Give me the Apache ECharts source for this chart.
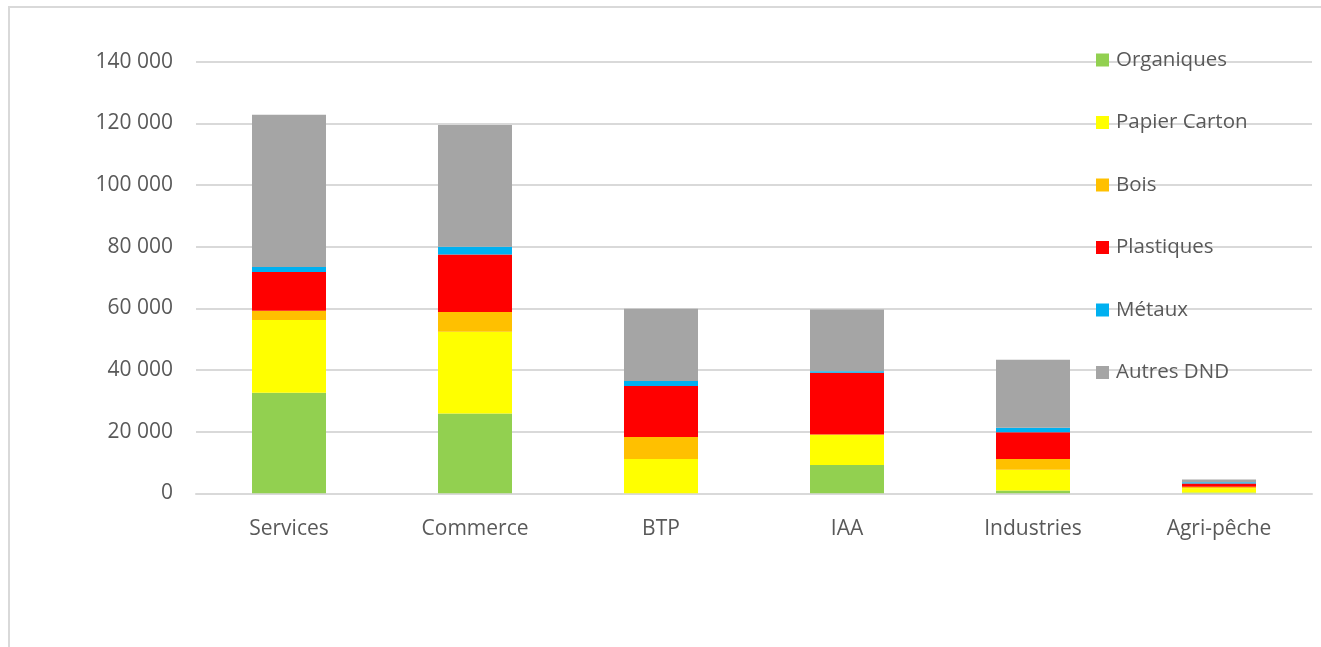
<!DOCTYPE html>
<html>
<head>
<meta charset="utf-8">
<script src="https://cdn.jsdelivr.net/npm/echarts@6/dist/echarts.min.js"></script>
<style>
html,body{margin:0;padding:0;background:#fff;}
#chart{width:1321px;height:647px;}
</style>
</head>
<body>
<div id="chart"></div>
<script>
const categories = ['Services', 'Commerce', 'BTP', 'IAA', 'Industries', 'Agri-pêche'];
const organiques = [32600, 25900, 0, 9200, 900, 300];
const papierCarton = [23600, 26500, 11100, 9900, 6700, 1300];
const bois = [3000, 6400, 7200, 0, 3500, 500];
const plastiques = [12600, 18700, 16500, 20000, 8700, 1100];
const metaux = [1600, 2500, 1600, 500, 1500, 400];
const autresDND = [49400, 39500, 23500, 20000, 22000, 900];

const seriesDefs = [
  ['Organiques', organiques, '#92D050'],
  ['Papier Carton', papierCarton, '#FFFF00'],
  ['Bois', bois, '#FFC000'],
  ['Plastiques', plastiques, '#FF0000'],
  ['Métaux', metaux, '#00B0F0'],
  ['Autres DND', autresDND, '#A5A5A5']
];

const fontFam = '"Open Sans", Lato, sans-serif';
const chart = echarts.init(document.getElementById('chart'), null, {renderer: 'canvas'});
chart.setOption({
  animation: false,
  backgroundColor: '#ffffff',
  graphic: [{
    type: 'rect', z: -1, silent: true,
    shape: {x: 9, y: 7, width: 1400, height: 700},
    style: {fill: 'none', stroke: '#d9d9d9', lineWidth: 2}
  }],
  grid: {left: 196, right: 9, top: 61.7, bottom: 153.7},
  legend: {
    orient: 'vertical',
    left: 1096,
    top: 48,
    padding: 0,
    itemWidth: 13,
    itemHeight: 13,
    itemGap: 38.5,
    icon: 'rect',
    data: seriesDefs.map(s => s[0]),
    textStyle: {fontFamily: fontFam, fontSize: 20.5, color: '#595959', lineHeight: 24, padding: [0, 0, 0, 2]}
  },
  xAxis: {
    type: 'category',
    data: categories,
    axisLine: {lineStyle: {color: '#d9d9d9', width: 2}},
    axisTick: {show: false},
    axisLabel: {fontFamily: fontFam, fontSize: 21, color: '#595959', margin: 25}
  },
  yAxis: {
    type: 'value',
    min: 0, max: 140000, interval: 20000,
    axisLine: {show: false},
    axisTick: {show: false},
    splitLine: {lineStyle: {color: '#d9d9d9', width: 2}},
    axisLabel: {
      fontFamily: fontFam, fontSize: 21, color: '#595959', margin: 23,
      formatter: v => String(v).replace(/\B(?=(\d{3})+(?!\d))/g, ' ')
    }
  },
  series: seriesDefs.map(s => ({
    name: s[0],
    type: 'bar',
    stack: 'total',
    barWidth: 74,
    data: s[1],
    itemStyle: {color: s[2]}
  }))
});
</script>
</body>
</html>
